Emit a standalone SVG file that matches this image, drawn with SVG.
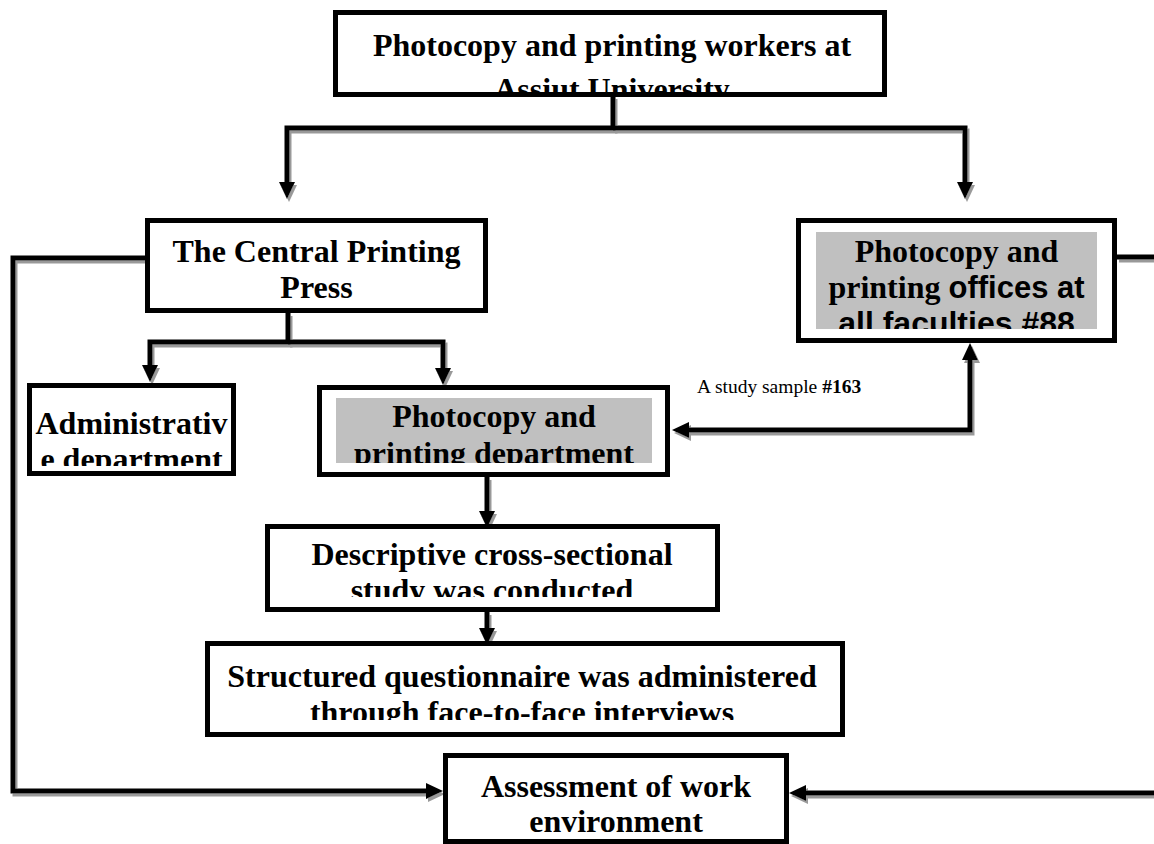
<svg xmlns="http://www.w3.org/2000/svg" width="1154" height="844" viewBox="0 0 1154 844">
<style>
.box{fill:#fff;stroke:#000;stroke-width:5}
.grey{fill:#c0c0c0}
.t{font-family:"Liberation Serif","Times New Roman",serif;font-weight:bold;font-size:32px;text-anchor:middle;fill:#000}
.s{font-family:"Liberation Sans",Arial,sans-serif;font-weight:bold}
.lbl{font-family:"Liberation Serif","Times New Roman",serif;font-size:19.5px;fill:#000}
.c{fill:none;stroke:#000;stroke-width:5}
</style>
<defs>
<marker id="ah" markerUnits="userSpaceOnUse" markerWidth="18" markerHeight="16" refX="0" refY="8" orient="auto" overflow="visible"><path d="M0,0 L17,8 L0,16 z" fill="#000"/></marker>
<marker id="ahs" markerUnits="userSpaceOnUse" markerWidth="18" markerHeight="16" refX="0" refY="8" orient="auto-start-reverse" overflow="visible"><path d="M0,0 L17,8 L0,16 z" fill="#000"/></marker>
<filter id="sh" x="-5%" y="-5%" width="110%" height="110%"><feDropShadow dx="2" dy="3" stdDeviation="0.4" flood-color="#999999" flood-opacity="1"/></filter>
<clipPath id="cTop"><rect x="338" y="14" width="547" height="78"/></clipPath>
<clipPath id="cRight"><rect x="816" y="232" width="281" height="97"/></clipPath>
<clipPath id="cDept"><rect x="336" y="398" width="316" height="65"/></clipPath>
<clipPath id="cAdmin"><rect x="32" y="388" width="199" height="78"/></clipPath>
<clipPath id="cDesc"><rect x="268" y="529" width="447" height="68"/></clipPath>
<clipPath id="cStruct"><rect x="210" y="646" width="630" height="74"/></clipPath>
</defs>
<rect width="1154" height="844" fill="#fff"/>

<g id="connectors" filter="url(#sh)">
<path class="c" d="M613,96 V128 H287 V182" marker-end="url(#ah)"/>
<path class="c" d="M613,128 H965 V182" marker-end="url(#ah)"/>
<path class="c" d="M288,313 V342 H150 V365" marker-end="url(#ah)"/>
<path class="c" d="M288,342 H443 V368" marker-end="url(#ah)"/>
<path class="c" d="M145,258 H13 V791 H426" marker-end="url(#ah)"/>
<path class="c" d="M1117,257 H1170 V793 H806" marker-end="url(#ah)"/>
<path class="c" d="M689,430 H970 V360" marker-start="url(#ahs)" marker-end="url(#ah)"/>
<path class="c" d="M487,477 V511" marker-end="url(#ah)"/>
<path class="c" d="M487,612 V628" marker-end="url(#ah)"/>
</g>

<g id="n-top">
<rect class="box" x="335.5" y="12.5" width="549" height="82"/>
<g clip-path="url(#cTop)">
<text class="t" x="612" y="56">Photocopy and printing workers at</text>
<text class="t" x="612" y="100">Assiut University</text>
</g>
</g>

<g id="n-central">
<rect class="box" x="147.5" y="220.5" width="338" height="90"/>
<text class="t" x="316.5" y="262">The Central Printing</text>
<text class="t" x="316.5" y="298">Press</text>
</g>

<g id="n-offices">
<rect class="box" x="798.5" y="220.5" width="316" height="120"/>
<rect class="grey" x="816" y="232" width="281" height="97"/>
<g clip-path="url(#cRight)">
<text class="t" x="956.5" y="262">Photocopy and</text>
<text class="t" x="956.5" y="298">printing <tspan class="s" font-size="31">offices at</tspan></text>
<text class="t s" x="956.5" y="334" font-size="31">all faculties #88</text>
</g>
</g>

<g id="n-admin">
<rect class="box" x="29.5" y="385.5" width="204" height="88"/>
<g clip-path="url(#cAdmin)">
<text class="t" x="131.5" y="434">Administrativ</text>
<text class="t" x="131.5" y="470">e department</text>
</g>
</g>

<g id="n-dept">
<rect class="box" x="319.5" y="387.5" width="348" height="87"/>
<rect class="grey" x="336" y="398" width="316" height="65"/>
<g clip-path="url(#cDept)">
<text class="t" x="494" y="427">Photocopy and</text>
<text class="t" x="494" y="464">printing department</text>
</g>
</g>

<text class="lbl" x="697" y="393">A study sample <tspan font-weight="bold">#163</tspan></text>

<g id="n-desc">
<rect class="box" x="267.5" y="526.5" width="450" height="83"/>
<g clip-path="url(#cDesc)">
<text class="t" x="492" y="565">Descriptive cross-sectional</text>
<text class="t" x="492" y="601">study was conducted</text>
</g>
</g>

<g id="n-struct">
<rect class="box" x="207.5" y="643.5" width="635" height="91"/>
<g clip-path="url(#cStruct)">
<text class="t" x="522" y="687">Structured questionnaire was administered</text>
<text class="t" x="522" y="723">through face-to-face interviews</text>
</g>
</g>

<g id="n-assess">
<rect class="box" x="445.5" y="755.5" width="341" height="86"/>
<text class="t" x="616" y="797">Assessment of work</text>
<text class="t" x="616" y="832">environment</text>
</g>
</svg>
